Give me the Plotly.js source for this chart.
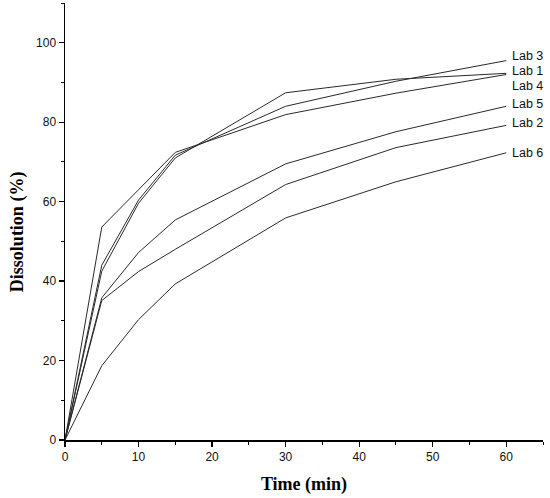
<!DOCTYPE html>
<html>
<head>
<meta charset="utf-8">
<script src="https://cdn.plot.ly/plotly-3.0.1.min.js"></script>
<style>
  body { margin: 0; background: #fff; }
  #grafico { width: 550px; height: 498px; }
</style>
</head>
<body>
<div id="grafico"></div>
<script>
// tiempos de muestreo (min)
var tiempos = [0, 5, 10, 15, 30, 45, 60];

// disolucion (%) por laboratorio
var lab1 = [0, 42.5, 59.6, 71.0, 87.4, 90.8, 92.3];
var lab2 = [0, 35.1, 42.4, 48.0, 64.3, 73.6, 79.2];
var lab3 = [0, 44.0, 60.4, 71.7, 84.0, 90.3, 95.5];
var lab4 = [0, 53.6, 63.0, 72.4, 81.9, 87.3, 92.0];
var lab5 = [0, 35.8, 47.2, 55.4, 69.5, 77.6, 84.0];
var lab6 = [0, 18.7, 30.3, 39.3, 55.9, 65.0, 72.3];

var nombres = ['Lab 1', 'Lab 2', 'Lab 3', 'Lab 4', 'Lab 5', 'Lab 6'];
var series = [lab1, lab2, lab3, lab4, lab5, lab6];
// ajuste vertical de las etiquetas (px) para que no se pisen
var desplaz = [2, 2, 5, -11, 2, 0];

var data = [];
var etiquetas = [];
for (var i = 0; i < series.length; i++) {
  data.push({
    x: tiempos,
    y: series[i],
    type: 'scatter',
    mode: 'lines',
    name: nombres[i],
    line: { color: '#2a2a2a', width: 1 }
  });
  etiquetas.push({
    x: tiempos[tiempos.length - 1],
    y: series[i][series[i].length - 1],
    xref: 'x', yref: 'y',
    text: nombres[i],
    showarrow: false,
    xanchor: 'left',
    xshift: 5,
    yshift: desplaz[i],
    borderpad: 0,
    font: { family: 'Liberation Sans, Arial', size: 12.5, color: '#111' }
  });
}

// titulo del eje y como anotacion, algo mas abajo que el centro
etiquetas.push({
  xref: 'paper', yref: 'paper',
  x: -0.098, y: 0.476,
  text: '<b>Dissolution (%)</b>',
  textangle: -90,
  showarrow: false,
  xanchor: 'center', yanchor: 'middle',
  font: { family: 'Liberation Serif, Times New Roman', size: 18, color: '#000' }
});

var ejeComun = {
  showline: true,
  linecolor: '#000',
  linewidth: 1.5,
  showgrid: false,
  zeroline: false,
  ticks: 'outside',
  ticklen: 5,
  tickwidth: 1.2,
  tickcolor: '#000',
  tickfont: { family: 'Liberation Sans, Arial', size: 12, color: '#111' }
};

var layout = {
  width: 550,
  height: 498,
  margin: { l: 65, r: 7, t: 3, b: 58 },
  paper_bgcolor: '#fff',
  plot_bgcolor: '#fff',
  showlegend: false,
  xaxis: Object.assign({}, ejeComun, {
    range: [0, 65],
    tick0: 0,
    dtick: 10,
    minor: { dtick: 5, ticks: 'outside', ticklen: 3, tickcolor: '#000', tickwidth: 1 },
    title: { text: '<b>Time (min)</b>', standoff: 14,
             font: { family: 'Liberation Serif, Times New Roman', size: 18, color: '#000' } }
  }),
  yaxis: Object.assign({}, ejeComun, {
    range: [0, 110],
    tick0: 0,
    dtick: 20,
    minor: { dtick: 10, ticks: 'outside', ticklen: 3, tickcolor: '#000', tickwidth: 1 }
  }),
  annotations: etiquetas
};

Plotly.newPlot('grafico', data, layout, { displayModeBar: false, staticPlot: true });
</script>
</body>
</html>
